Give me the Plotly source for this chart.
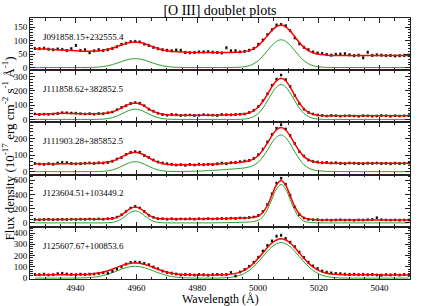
import plotly.graph_objects as go
from plotly.subplots import make_subplots

# ---------------- data ----------------
wavelength = [
    4926.6, 4928.1, 4929.6, 4931.1, 4932.6, 4934.1, 4935.6, 4937.1, 4938.6, 4940.1,
    4941.6, 4943.1, 4944.6, 4946.1, 4947.6, 4949.1, 4950.6, 4952.1, 4953.6, 4955.1,
    4956.6, 4958.1, 4959.6, 4961.1, 4962.6, 4964.1, 4965.6, 4967.1, 4968.6, 4970.1,
    4971.6, 4973.1, 4974.6, 4976.1, 4977.6, 4979.1, 4980.6, 4982.1, 4983.6, 4985.1,
    4986.6, 4988.1, 4989.6, 4991.1, 4992.6, 4994.1, 4995.6, 4997.1, 4998.6, 5000.1,
    5001.6, 5003.1, 5004.6, 5006.1, 5007.6, 5009.1, 5010.6, 5012.1, 5013.6, 5015.1,
    5016.6, 5018.1, 5019.6, 5021.1, 5022.6, 5024.1, 5025.6, 5027.1, 5028.6, 5030.1,
    5031.6, 5033.1, 5034.6, 5036.1, 5037.6, 5039.1, 5040.6, 5042.1, 5043.6, 5045.1,
    5046.6, 5048.1, 5049.6]

object_names = ["J091858.15+232555.4", "J111858.62+382852.5", "J111903.28+385852.5",
                "J123604.51+103449.2", "J125607.67+100853.6"]

flux_1 = [71, 70, 72, 68, 66, 69, 67, 63, 70, 82,
          63, 66, 55, 62, 66, 63, 66, 71, 77, 86,
          90, 96, 97, 95, 87, 82, 75, 70, 66, 64,
          62, 65, 64, 56, 55, 56, 58, 58, 59, 57,
          56, 54, 73, 62, 62, 58, 60, 64, 71, 86,
          102, 122, 140, 158, 160, 155, 137, 110, 88, 75,
          66, 58, 54, 52, 48, 46, 49, 50, 51, 47,
          44, 46, 36, 57, 45, 47, 46, 44, 45, 43,
          44, 45, 46]
fit_1 = [70, 69, 69, 68, 67, 66, 65, 64, 63, 62,
         61, 60.1, 60.4, 60.9, 61.8, 64.6, 67.5, 71.7, 78.1, 84,
         89.6, 93.5, 95, 93.5, 88.6, 83, 76.1, 70.7, 65.5, 62.6,
         59.8, 58.9, 57.4, 57.1, 56, 56, 56, 56, 56, 56,
         56, 56, 56, 56, 56.4, 57.1, 59, 62.8, 69.9, 81.6,
         98.3, 118.5, 137.5, 152.4, 158, 151.4, 135.5, 114.5, 93.3, 75.6,
         62.9, 54.8, 50, 48.1, 46.4, 45, 45, 45, 45, 45,
         45, 45, 45, 45, 45, 45, 45, 45, 45, 45,
         45, 45, 45]
comp_1 = [0, 0, 0, 0, 0, 0, 0, 0, 0, 0,
          0, 0.1, 0.4, 0.9, 1.8, 3.6, 6.5, 10.7, 16.1, 22,
          27.6, 31.5, 33, 31.5, 27.6, 22, 16.1, 10.7, 6.5, 3.6,
          1.8, 0.9, 0.4, 0.1, 0, 0, 0, 0, 0, 0,
          0, 0, 0, 0, 0.4, 1.1, 3.0, 6.8, 13.9, 25.6,
          42.3, 62.5, 82.5, 97.4, 103, 97.4, 82.5, 62.5, 42.3, 25.6,
          13.9, 6.8, 3.0, 1.1, 0.4, 0, 0, 0, 0, 0,
          0, 0, 0, 0, 0, 0, 0, 0, 0, 0,
          0, 0, 0]

flux_2 = [38, 35, 37, 36, 38, 41, 47, 46, 45, 44,
          40, 38, 40, 37, 41, 40, 46, 52, 68, 84,
          96, 112, 118, 114, 96, 72, 58, 44, 34, 30,
          34, 32, 28, 30, 31, 27, 29, 33, 31, 30,
          28, 34, 33, 32, 35, 36, 38, 48, 64, 90,
          132, 180, 240, 283, 312, 280, 232, 168, 112, 72,
          50, 38, 31, 28, 24, 27, 26, 23, 25, 26,
          24, 22, 26, 25, 23, 24, 27, 25, 23, 26,
          24, 25, 26]
fit_2 = [36, 36, 37, 38, 40, 42, 43, 43, 42, 41,
         40, 39, 39, 39.2, 39.8, 42.3, 45.8, 53.4, 65.4, 81,
         98, 111, 116, 110, 94, 74, 56.4, 43.4, 35.8, 32.3,
         30.8, 30.2, 30, 30, 30, 30, 30, 30, 30, 30,
         30, 31, 32, 33, 34, 35.7, 39.7, 46.8, 61.6, 87,
         126, 176, 231, 273, 290, 272, 227, 169, 116, 75,
         49.6, 35.8, 29.7, 26.7, 25, 25, 25, 25, 25, 25,
         25, 25, 25, 25, 25, 25, 25, 25, 25, 25,
         25, 25, 25]
comp_2 = [0, 0, 0, 0, 0, 0, 0, 0, 0, 0,
          0, 0, 0, 0.2, 0.8, 2.3, 5.8, 12.4, 23.4, 38,
          54, 67, 72, 67, 54, 38, 23.4, 12.4, 5.8, 2.3,
          0.8, 0.2, 0, 0, 0, 0, 0, 0, 0, 0,
          0, 0, 0, 0, 0, 0.7, 2.7, 7.8, 19.6, 42,
          80, 130, 185, 228, 245, 228, 185, 130, 80, 42,
          19.6, 7.8, 2.7, 0.7, 0, 0, 0, 0, 0, 0,
          0, 0, 0, 0, 0, 0, 0, 0, 0, 0,
          0, 0, 0]

flux_3 = [49, 46, 44, 48, 45, 52, 56, 54, 49, 47,
          48, 51, 52, 50, 53, 52, 56, 63, 76, 86,
          104, 116, 120, 117, 98, 86, 70, 58, 52, 47,
          44, 40, 42, 39, 43, 40, 45, 42, 44, 43,
          47, 52, 48, 54, 56, 60, 64, 68, 80, 102,
          136, 180, 225, 262, 284, 258, 218, 170, 122, 94,
          70, 62, 58, 54, 55, 52, 53, 50, 48, 52,
          51, 49, 48, 51, 50, 52, 49, 50, 48, 51,
          49, 50, 52]
fit_3 = [47, 47, 46, 46, 46, 47, 47, 48, 48, 48,
         49, 49, 50, 50, 51.7, 53.9, 57.8, 64.3, 74.5, 88,
         102, 114, 118, 113, 100, 84, 68.5, 57.3, 49.8, 45.1,
         43.1, 41.6, 40.9, 41.3, 40.8, 41.6, 41.5, 42.6, 43.9, 44.4,
         46.2, 48.1, 50.1, 52.2, 54.1, 56.5, 60.7, 66.2, 77.7, 97.5,
         130.2, 172.5, 218.3, 253.7, 266.9, 251.9, 214.8, 167.8, 124.9, 92.2,
         72.1, 61, 55.6, 53, 51.7, 51.2, 50.8, 50.5, 50.3, 50.2,
         50.2, 50, 50, 50, 50, 50, 50, 50, 50, 50,
         50, 50, 50]
comp_3 = [0, 0, 0, 0, 0, 0, 0, 0, 0, 0,
          0, 0, 0, 0, 0.7, 1.9, 4.8, 10.3, 19.5, 32,
          45, 56, 60, 56, 45, 32, 19.5, 10.3, 4.8, 2.1,
          1.1, 0.6, 0.9, 1.3, 1.8, 2.6, 3.5, 4.6, 5.9, 7.4,
          9.2, 11.1, 13.1, 15.2, 17.1, 19.5, 22.7, 28.2, 38.7, 57.5,
          89.2, 130.5, 175.3, 209.7, 221.9, 205.9, 167.8, 119.8, 75.9, 42.2,
          22.1, 11, 5.6, 3, 1.7, 1.2, 0.8, 0.5, 0.3, 0.2,
          0.2, 0, 0, 0, 0, 0, 0, 0, 0, 0,
          0, 0, 0]

flux_4 = [48, 44, 47, 50, 45, 49, 51, 47, 52, 48,
          53, 50, 54, 51, 56, 52, 58, 64, 82, 114,
          162, 210, 232, 210, 162, 108, 80, 60, 58, 53,
          57, 52, 56, 54, 57, 53, 58, 55, 60, 56,
          58, 62, 60, 66, 63, 70, 68, 76, 84, 104,
          160, 260, 410, 560, 630, 545, 390, 225, 118, 70,
          50, 44, 45, 39, 42, 38, 41, 43, 39, 41,
          38, 42, 40, 44, 48, 72, 45, 41, 39, 42,
          38, 40, 41]
fit_4 = [45, 46, 47, 47, 48, 48, 49, 49, 50, 50,
         51, 51, 52, 52, 53, 53.3, 55.9, 61.5, 78, 110,
         158, 205, 225, 205, 158, 110, 78, 62.5, 56.9, 55.3,
         55, 55, 55, 55, 55, 56, 56.1, 56.3, 57.5, 57.8,
         59.3, 60.1, 62.1, 64.5, 66.1, 68, 69.9, 72.8, 79.4, 97.5,
         147, 246.9, 395.1, 537.7, 597.9, 532, 383.1, 229.3, 125.8, 73.6,
         53.7, 46.1, 42.6, 41.4, 40.2, 40.1, 40, 40, 40, 40,
         40, 40, 40, 40, 40, 40, 40, 40, 40, 40,
         40, 40, 40]
comp_4 = [0, 0, 0, 0, 0, 0, 0, 0, 0, 0,
          0, 0, 0, 0, 0, 0.3, 1.9, 7.5, 23, 55,
          103, 150, 170, 150, 103, 55, 23, 7.5, 1.9, 0.3,
          0, 0, 0, 0, 0, 0, 0.1, 0.3, 0.5, 0.8,
          1.3, 2.1, 3.1, 4.5, 6.1, 8, 9.9, 12.8, 19.4, 37.5,
          87, 186.9, 336.1, 479.7, 540.9, 476, 329.1, 177.3, 75.8, 25.6,
          7.7, 2.1, 0.6, 0.4, 0.2, 0.1, 0, 0, 0, 0,
          0, 0, 0, 0, 0, 0, 0, 0, 0, 0,
          0, 0, 0]

flux_5 = [32, 30, 35, 28, 30, 38, 42, 36, 33, 30,
          34, 31, 35, 36, 42, 48, 44, 60, 80, 100,
          124, 138, 142, 140, 130, 118, 98, 82, 62, 50,
          44, 36, 28, 33, 30, 27, 31, 29, 26, 30,
          32, 30, 31, 50, 18, 54, 76, 104, 140, 185,
          240, 290, 330, 372, 380, 352, 318, 278, 230, 182,
          140, 108, 84, 62, 52, 46, 40, 38, 35, 32,
          34, 30, 33, 29, 31, 28, 26, 30, 28, 32,
          27, 31, 26]
fit_5 = [28, 28, 28, 29, 29, 30, 30, 30, 30, 30.5,
         31.2, 32.4, 34.6, 38.4, 44.2, 53.7, 65.1, 79.1, 94.7, 110.3,
         123.6, 132.7, 136, 132.7, 123.6, 110.3, 93.7, 78.1, 64.1, 51.7,
         43.2, 37.4, 32.6, 30.4, 29.2, 28.5, 28, 28, 28, 28,
         28, 29.6, 31.5, 35.2, 41.9, 53.2, 70.5, 97, 132, 175,
         223, 271, 311, 338, 348, 338, 311, 271, 223, 176,
         133, 99, 72.5, 55.2, 43.9, 37.2, 33.5, 31.6, 30, 30,
         30, 29, 29, 29, 29, 29, 28, 28, 28, 28,
         28, 28, 28]
comp_5 = [0, 0, 0, 0, 0, 0, 0, 0, 0, 0.5,
          1.2, 2.4, 4.6, 8.4, 14.2, 22.7, 34.1, 48.1, 63.7, 79.3,
          92.6, 101.7, 105, 101.7, 92.6, 79.3, 63.7, 48.1, 34.1, 22.7,
          14.2, 8.4, 4.6, 2.4, 1.2, 0.5, 0, 0, 0, 0,
          0, 1.6, 3.5, 7.2, 13.9, 25.2, 42.5, 68, 102, 144,
          191, 238, 278, 305, 315, 305, 278, 238, 191, 144,
          102, 68, 42.5, 25.2, 13.9, 7.2, 3.5, 1.6, 0, 0,
          0, 0, 0, 0, 0, 0, 0, 0, 0, 0,
          0, 0, 0]

flux_errors = [4, 6, 6, 12, 9]

fluxes = [flux_1, flux_2, flux_3, flux_4, flux_5]
fits = [fit_1, fit_2, fit_3, fit_4, fit_5]
comps = [comp_1, comp_2, comp_3, comp_4, comp_5]

# axis settings
y_ranges = [[-10, 184], [-21, 346], [-18, 298], [-55, 680], [-8, 455]]
y_dticks = [50, 100, 100, 200, 100]
y_minor = [10, 20, 20, 50, 20]

FONT = "Liberation Serif"
AXC = "#222222"

fig = make_subplots(rows=5, cols=1, shared_xaxes=True, vertical_spacing=0)

for k in range(5):
    r = k + 1
    fig.add_trace(go.Scatter(x=wavelength, y=comps[k], mode="lines",
                             line=dict(color="#2ca02c", width=1, shape="spline"),
                             showlegend=False, hoverinfo="skip"), row=r, col=1)
    fig.add_trace(go.Scatter(x=wavelength, y=fluxes[k], mode="markers",
                             marker=dict(symbol="square", size=2, color="black"),
                             error_y=dict(type="constant", value=flux_errors[k],
                                          thickness=0.8, width=1.2, color="#333333"),
                             showlegend=False), row=r, col=1)
    fig.add_trace(go.Scatter(x=wavelength, y=fits[k], mode="lines",
                             line=dict(color="#ff0000", width=1.5, shape="spline"),
                             showlegend=False, hoverinfo="skip"), row=r, col=1)
    fig.add_annotation(text=object_names[k], xref="x domain", yref="y domain",
                       x=0.028, y=0.64, xanchor="left", yanchor="middle",
                       showarrow=False, font=dict(family=FONT, size=9, color="black"),
                       row=r, col=1)
    fig.update_yaxes(range=y_ranges[k], tickmode="linear", tick0=0, dtick=y_dticks[k],
                     minor=dict(dtick=y_minor[k], tick0=0, ticks="inside", ticklen=2.5,
                                tickcolor=AXC, showgrid=False),
                     row=r, col=1)

fig.update_xaxes(range=[4925, 5050], tickmode="linear", tick0=4940, dtick=20,
                 ticks="inside", ticklen=5, tickcolor=AXC, showline=True, linecolor=AXC,
                 linewidth=1, mirror="allticks", showgrid=False, zeroline=False,
                 minor=dict(dtick=5, tick0=4925, ticks="inside", ticklen=2.5,
                            tickcolor=AXC, showgrid=False),
                 tickfont=dict(family=FONT, size=9, color="black"))
fig.update_yaxes(ticks="inside", ticklen=5, tickcolor=AXC, showline=True, linecolor=AXC,
                 linewidth=1, mirror="allticks", showgrid=False, zeroline=False,
                 tickfont=dict(family=FONT, size=9, color="black"))

fig.add_annotation(text="Flux density (10<sup>-17</sup> erg cm<sup>-2</sup> s<sup>-1</sup> Å<sup>-1</sup>)",
                   xref="paper", yref="paper", x=-0.058, y=0.5, textangle=-90,
                   xanchor="center", yanchor="middle", showarrow=False,
                   font=dict(family=FONT, size=13, color="black"))
fig.add_annotation(text="Wavelength (Å)", xref="paper", yref="paper", x=0.5, y=-0.076,
                   xanchor="center", yanchor="middle", showarrow=False,
                   font=dict(family=FONT, size=12, color="black"))

fig.update_layout(
    width=436, height=306,
    margin=dict(l=30, r=26, t=18, b=27),
    paper_bgcolor="white", plot_bgcolor="white",
    font=dict(family=FONT, color="black"),
    title=dict(text="[O III] doublet plots", x=0.5, xref="paper", xanchor="center",
               y=1 - 10 / 306, yanchor="middle",
               font=dict(family=FONT, size=14, color="black")),
    showlegend=False,
)

fig.write_html("out.html", config={"displayModeBar": False},
               post_script="document.body.style.margin='0';document.body.style.padding='0';")
